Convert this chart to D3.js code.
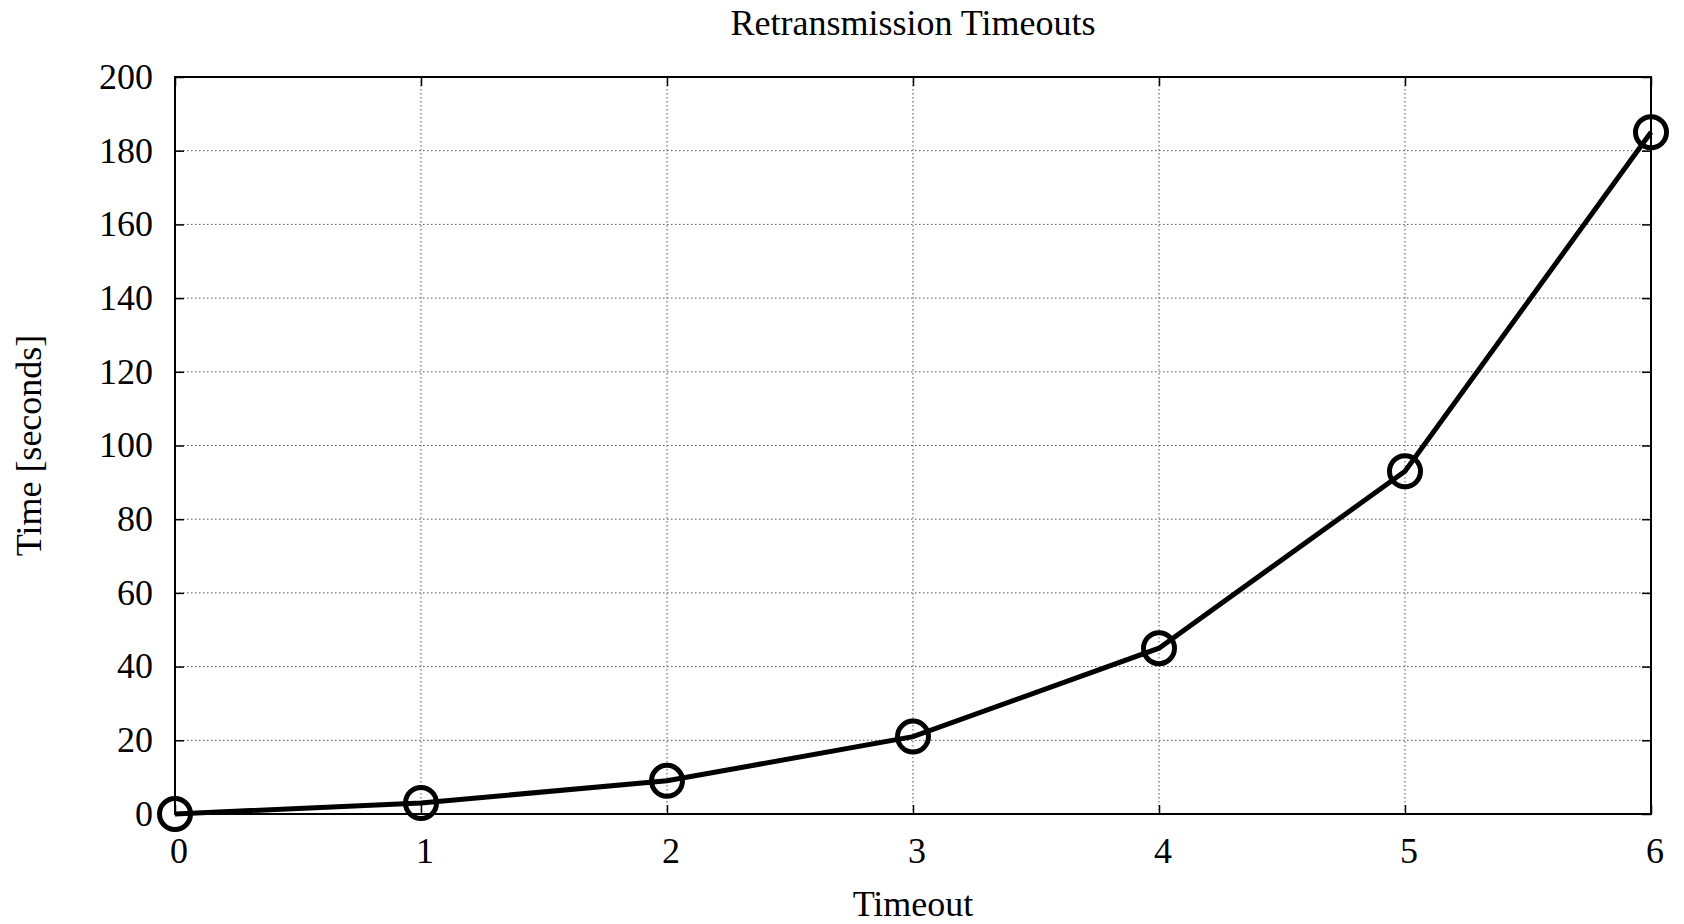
<!DOCTYPE html>
<html lang="en">
<head>
  <meta charset="UTF-8">
  <title>Retransmission Timeouts</title>
  <script src="https://cdn.jsdelivr.net/npm/d3@7"></script>
</head>

<style>
body { margin: 0; background: white; }
text { font-family: "Liberation Serif", "Times New Roman", serif; fill: black; }
.grid line { stroke: #555; stroke-width: 1; stroke-dasharray: 1.5 2.5; }
</style>

<body>

  <svg width="1684" height="924"></svg>

  <script>

    // timeout number -> cumulative time in seconds
    var timeouts = [0, 1, 2, 3, 4, 5, 6]
    var seconds = [0, 3, 9, 21, 45, 93, 185]

    var xTicks = [0, 1, 2, 3, 4, 5, 6]
    var yTicks = [0, 20, 40, 60, 80, 100, 120, 140, 160, 180, 200]

    var data = timeouts.map((t, i) => ({t: t, s: seconds[i]}))

    // plot box (note: "top" clashes with window.top, so use p* names)
    var pLeft = 175, pRight = 1651, pTop = 77, pBottom = 814

    var x = d3.scaleLinear().domain([0, 6]).range([pLeft, pRight])
    var y = d3.scaleLinear().domain([0, 200]).range([pBottom, pTop])

    var svg = d3.select('svg')
    var fs = 36

    // grid
    var grid = svg.append('g').attr('class', 'grid')
    grid.selectAll('.gy')
      .data(yTicks.filter(d => d > 0 && d < 200))
      .enter().append('line')
      .attr('x1', pLeft).attr('x2', pRight)
      .attr('y1', d => y(d)).attr('y2', d => y(d))
    grid.selectAll('.gx')
      .data(xTicks.filter(d => d > 0 && d < 6))
      .enter().append('line')
      .attr('y1', pTop).attr('y2', pBottom)
      .attr('x1', d => x(d)).attr('x2', d => x(d))

    // axes with inward ticks (mirrored)
    var tk = 9
    svg.append('g').attr('transform', 'translate(' + pLeft + ',0)')
      .call(d3.axisLeft(y).tickValues(yTicks).tickSize(-tk).tickFormat(''))
    svg.append('g').attr('transform', 'translate(' + pRight + ',0)')
      .call(d3.axisRight(y).tickValues(yTicks).tickSize(-tk).tickFormat(''))
    svg.append('g').attr('transform', 'translate(0,' + pBottom + ')')
      .call(d3.axisBottom(x).tickValues(xTicks).tickSize(-tk).tickFormat(''))
    svg.append('g').attr('transform', 'translate(0,' + pTop + ')')
      .call(d3.axisTop(x).tickValues(xTicks).tickSize(-tk).tickFormat(''))
    svg.selectAll('.domain').remove()
    svg.selectAll('.tick line').attr('stroke', 'black').attr('stroke-width', 1.5)

    // frame
    svg.append('rect')
      .attr('x', pLeft).attr('y', pTop)
      .attr('width', pRight - pLeft).attr('height', pBottom - pTop)
      .attr('fill', 'none').attr('stroke', 'black').attr('stroke-width', 2)

    // tick labels
    svg.selectAll('.ylab')
      .data(yTicks).enter().append('text')
      .attr('x', 153).attr('y', d => y(d))
      .attr('dy', '0.33em')
      .attr('text-anchor', 'end')
      .style('font-size', fs + 'px')
      .text(d => d)
    svg.selectAll('.xlab')
      .data(xTicks).enter().append('text')
      .attr('x', d => x(d) + 4).attr('y', 863)
      .attr('text-anchor', 'middle')
      .style('font-size', fs + 'px')
      .text(d => d)

    // titles
    svg.append('text')
      .attr('x', (pLeft + pRight) / 2).attr('y', 35)
      .attr('text-anchor', 'middle')
      .style('font-size', fs + 'px')
      .text('Retransmission Timeouts')
    svg.append('text')
      .attr('x', (pLeft + pRight) / 2).attr('y', 916)
      .attr('text-anchor', 'middle')
      .style('font-size', fs + 'px')
      .text('Timeout')
    svg.append('text')
      .attr('transform', 'translate(41,' + ((pTop + pBottom) / 2) + ') rotate(-90)')
      .attr('text-anchor', 'middle')
      .style('font-size', fs + 'px')
      .text('Time [seconds]')

    // line + markers
    var line = d3.line().x(d => x(d.t)).y(d => y(d.s))
    svg.append('path')
      .datum(data)
      .attr('d', line)
      .attr('fill', 'none')
      .attr('stroke', 'black')
      .attr('stroke-width', 5)

    svg.selectAll('circle')
      .data(data).enter().append('circle')
      .attr('cx', d => x(d.t)).attr('cy', d => y(d.s))
      .attr('r', 15.5)
      .attr('fill', 'none')
      .attr('stroke', 'black')
      .attr('stroke-width', 5)
  </script>

</body>
</html>
